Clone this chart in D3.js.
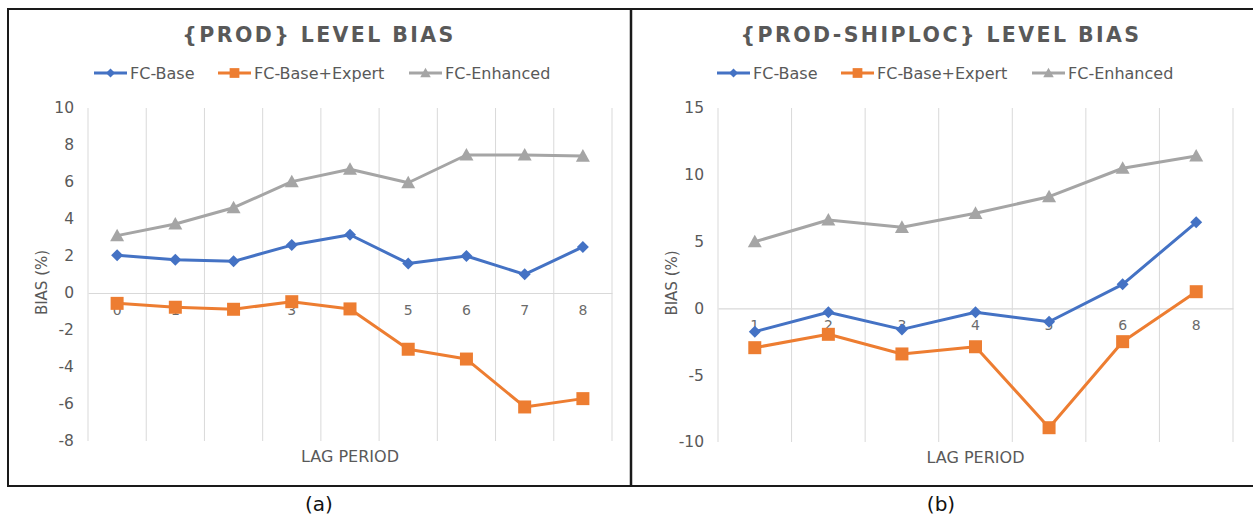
<!DOCTYPE html>
<html>
<head>
<meta charset="utf-8">
<script src="https://cdn.jsdelivr.net/npm/d3@7"></script>
<style>
  body { margin: 0; background: #fff; }
  svg { display: block; font-family: "DejaVu Sans", Verdana, sans-serif; }
</style>
</head>
<body>
<svg id="chart" width="1253" height="521"></svg>
<script>
const SERIES_NAMES = ['FC-Base', 'FC-Base+Expert', 'FC-Enhanced'];
const SERIES_COLORS = ['#4472C4', '#ED7D31', '#A5A5A5'];

// (a) {PROD} level
const prodLags = ['0', '1', '2', '3', '4', '5', '6', '7', '8'];
const prodBase = [2.04, 1.8, 1.71, 2.59, 3.15, 1.6, 2.0, 1.01, 2.49];
const prodExpert = [-0.56, -0.77, -0.88, -0.47, -0.86, -3.04, -3.57, -6.16, -5.71];
const prodEnhanced = [3.1, 3.73, 4.61, 6.02, 6.69, 5.96, 7.46, 7.46, 7.4];
const prodTicks = [-8, -6, -4, -2, 0, 2, 4, 6, 8, 10];

// (b) {PROD-SHIPLOC} level
const shiplocLags = ['1', '2', '3', '4', '5', '6', '8'];
const shiplocBase = [-1.74, -0.29, -1.57, -0.29, -1.0, 1.8, 6.44];
const shiplocExpert = [-2.94, -1.94, -3.41, -2.87, -8.93, -2.49, 1.25];
const shiplocEnhanced = [4.99, 6.62, 6.07, 7.12, 8.36, 10.49, 11.41];
const shiplocTicks = [-10, -5, 0, 5, 10, 15];

const svg = d3.select('#chart');

// frame
svg.append('rect')
  .attr('x', 8).attr('y', 9)
  .attr('width', 1250).attr('height', 477)
  .attr('fill', 'none')
  .attr('stroke', '#1a1a1a')
  .attr('stroke-width', 2);
svg.append('line')
  .attr('x1', 631).attr('x2', 631)
  .attr('y1', 9).attr('y2', 486)
  .attr('stroke', '#1a1a1a')
  .attr('stroke-width', 2.5);

drawPanel({
  title: '{PROD} LEVEL BIAS',
  caption: '(a)',
  lags: prodLags,
  series: [prodBase, prodExpert, prodEnhanced],
  ticks: prodTicks,
  left: 88, right: 612, top: 108, bottom: 441,
  legendX: [94, 218, 409],
  center: 319,
});

drawPanel({
  title: '{PROD-SHIPLOC} LEVEL BIAS',
  caption: '(b)',
  lags: shiplocLags,
  series: [shiplocBase, shiplocExpert, shiplocEnhanced],
  ticks: shiplocTicks,
  left: 718, right: 1233, top: 108, bottom: 442,
  legendX: [717, 841, 1032],
  center: 941,
});

function drawPanel(cfg) {
  const g = svg.append('g');

  const x = d3.scaleBand().domain(cfg.lags).range([cfg.left, cfg.right]);
  const y = d3.scaleLinear()
    .domain(d3.extent(cfg.ticks))
    .range([cfg.bottom, cfg.top]);

  // title
  g.append('text')
    .attr('x', cfg.center)
    .attr('y', 42)
    .attr('text-anchor', 'middle')
    .attr('font-size', 20.5)
    .attr('font-weight', 'bold')
    .attr('letter-spacing', 2.4)
    .attr('fill', '#595959')
    .text(cfg.title);

  // legend
  SERIES_NAMES.forEach((name, i) => {
    const lx = cfg.legendX[i];
    const item = g.append('g').attr('transform', `translate(${lx}, 73)`);
    item.append('line')
      .attr('x1', 0).attr('x2', 33)
      .attr('stroke', SERIES_COLORS[i])
      .attr('stroke-width', 3);
    item.append('path')
      .attr('transform', 'translate(16.5, 0)')
      .attr('d', markerPath(i, 0.75))
      .attr('fill', SERIES_COLORS[i]);
    item.append('text')
      .attr('x', 36)
      .attr('dy', '0.35em')
      .attr('font-size', 16)
      .attr('fill', '#595959')
      .text(name);
  });

  // vertical gridlines at band edges
  const edges = cfg.lags.map(d => x(d)).concat([cfg.right]);
  g.append('g')
    .selectAll('line')
    .data(edges)
    .join('line')
    .attr('x1', d => d).attr('x2', d => d)
    .attr('y1', cfg.top).attr('y2', cfg.bottom)
    .attr('stroke', '#d9d9d9')
    .attr('stroke-width', 1);

  // y axis labels
  const yAxis = d3.axisLeft(y)
    .tickValues(cfg.ticks)
    .tickFormat(d => String(d))
    .tickSize(0)
    .tickPadding(14);
  const yG = g.append('g')
    .attr('transform', `translate(${cfg.left}, 0)`)
    .call(yAxis);
  yG.select('.domain').remove();
  yG.selectAll('text')
    .attr('font-family', '"DejaVu Sans", Verdana, sans-serif')
    .attr('font-size', 15.5)
    .attr('fill', '#595959');

  // zero axis line with labels below
  const xAxis = d3.axisBottom(x).tickSize(0).tickPadding(12);
  const xG = g.append('g')
    .attr('transform', `translate(0, ${y(0)})`)
    .call(xAxis);
  xG.select('.domain').attr('stroke', '#d9d9d9').attr('stroke-width', 1.2);
  xG.selectAll('text')
    .attr('font-family', '"DejaVu Sans", Verdana, sans-serif')
    .attr('font-size', 14)
    .attr('fill', '#6b6b6b');

  // axis titles
  g.append('text')
    .attr('x', (cfg.left + cfg.right) / 2)
    .attr('y', cfg.bottom + 21)
    .attr('text-anchor', 'middle')
    .attr('font-size', 16)
    .attr('fill', '#595959')
    .text('LAG PERIOD');

  g.append('text')
    .attr('transform', `translate(${cfg.left - 41}, ${(cfg.top + cfg.bottom) / 2 + 8}) rotate(-90)`)
    .attr('text-anchor', 'middle')
    .attr('font-size', 15)
    .attr('fill', '#595959')
    .text('BIAS (%)');

  // series
  const line = d3.line()
    .x((d, i) => x(cfg.lags[i]) + x.bandwidth() / 2)
    .y(d => y(d));

  cfg.series.forEach((values, si) => {
    g.append('path')
      .datum(values)
      .attr('d', line)
      .attr('fill', 'none')
      .attr('stroke', SERIES_COLORS[si])
      .attr('stroke-width', 3)
      .attr('stroke-linejoin', 'round');
  });
  cfg.series.forEach((values, si) => {
    g.append('g')
      .selectAll('path')
      .data(values)
      .join('path')
      .attr('transform', (d, i) => `translate(${x(cfg.lags[i]) + x.bandwidth() / 2}, ${y(d)})`)
      .attr('d', markerPath(si, 1))
      .attr('fill', SERIES_COLORS[si]);
  });

  // caption
  g.append('text')
    .attr('x', cfg.center)
    .attr('y', 511)
    .attr('text-anchor', 'middle')
    .attr('font-size', 20)
    .attr('fill', '#111')
    .text(cfg.caption);
}

function markerPath(kind, k) {
  if (kind === 0) {
    const r = 6 * k;
    return `M0,${-r}L${r},0L0,${r}L${-r},0Z`;
  }
  if (kind === 1) {
    const s = 6.5 * k;
    return `M${-s},${-s}H${s}V${s}H${-s}Z`;
  }
  const h = 7 * k;
  return `M0,${-h}L${h},${h * 0.8}L${-h},${h * 0.8}Z`;
}
</script>
</body>
</html>
